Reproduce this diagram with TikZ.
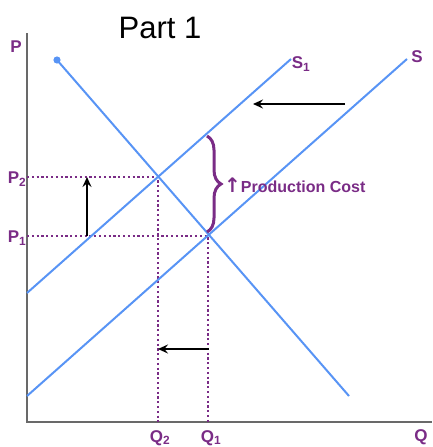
\documentclass[tikz,border=0pt]{standalone}
\usepackage{fontspec}
\setmainfont{Liberation Sans}
\newfontfamily\arrowfont{DejaVu Sans}
\usetikzlibrary{arrows.meta,decorations.pathreplacing}
\definecolor{sdcurve}{RGB}{88,148,245}
\definecolor{sdlabel}{RGB}{122,44,134}
\definecolor{sdaxis}{RGB}{105,105,105}
\tikzset{
  axisline/.style={draw=sdaxis, line width=1.3pt},
  curve/.style={draw=sdcurve, line width=2pt},
  guide/.style={draw=sdlabel, line width=2.6pt, dash pattern=on 2.2pt off 2.6pt},
  shiftarrow/.style={-{Stealth[length=10pt,width=9pt,inset=3.5pt]}, draw=black, line width=1.8pt},
  lbl/.style={text=sdlabel, font=\fontsize{17}{17}\selectfont\bfseries, inner sep=0pt},
  title/.style={font=\fontsize{31}{31}\selectfont, inner sep=0pt}
}
\begin{document}
\begin{tikzpicture}[x=1pt,y=-1pt]
  \useasboundingbox (0,0) rectangle (432,447);
  % axes
  \coordinate (o) at (27,422);
  \coordinate (ptop) at (27,33);
  \coordinate (qend) at (432,422);
  \draw[axisline] (ptop) -- (o) -- (qend);
  % curves
  \coordinate (dtop) at (57,60);
  \coordinate (dbot) at (349,396);
  \coordinate (s1a) at (27,293);
  \coordinate (s1b) at (291,59);
  \coordinate (sa) at (27,396);
  \coordinate (sb) at (407,59);
  \coordinate (e2) at (158,177);
  \coordinate (e1) at (208,236);
  \coordinate (p2) at (27,177);
  \coordinate (p1) at (27,236);
  \coordinate (q2) at (158,422);
  \coordinate (q1) at (208,422);
  % dotted guides
  \draw[guide] (p2) -- (e2) -- (q2);
  \draw[guide] (p1) -- (e1) -- (q1);
  \draw[curve] (dtop) -- (dbot);
  \draw[curve] (s1a) -- (s1b);
  \draw[curve] (sa) -- (sb);
  \fill[sdcurve] (dtop) circle (3.6pt);
  % shift arrows
  \coordinate (upfrom) at (87,236);
  \coordinate (upto) at (87,177);
  \coordinate (topfrom) at (345,104);
  \coordinate (topto) at (253,104);
  \coordinate (lowfrom) at (209,349);
  \coordinate (lowto) at (158,349);
  \draw[shiftarrow] (upfrom) -- (upto);
  \draw[shiftarrow] (topfrom) -- (topto);
  \draw[shiftarrow] (lowfrom) -- (lowto);
  % brace
  \coordinate (brtop) at (207,136);
  \coordinate (brbot) at (207,232);
  \draw[draw=sdlabel, line width=3pt, decorate,
        decoration={brace, amplitude=14pt}] (brtop) -- (brbot);
  \node[lbl, anchor=west, font=\fontsize{16}{16}\selectfont\bfseries] (cost) at (224,185)
    {{\arrowfont\fontsize{20}{20}\selectfont ↑}Production Cost};
  % labels
  \node[title] (part) at (160,28) {Part 1};
  \node[lbl] (plab) at (16,47) {P};
  \node[lbl] (p2lab) at (17,179) {P\textsubscript{2}};
  \node[lbl] (p1lab) at (17,238) {P\textsubscript{1}};
  \node[lbl] (s1lab) at (301,64) {S\textsubscript{1}};
  \node[lbl] (slab) at (417,57) {S};
  \node[lbl] (q2lab) at (160,438) {Q\textsubscript{2}};
  \node[lbl] (q1lab) at (211,438) {Q\textsubscript{1}};
  \node[lbl] (qlab) at (421,437) {Q};
\end{tikzpicture}
\end{document}
